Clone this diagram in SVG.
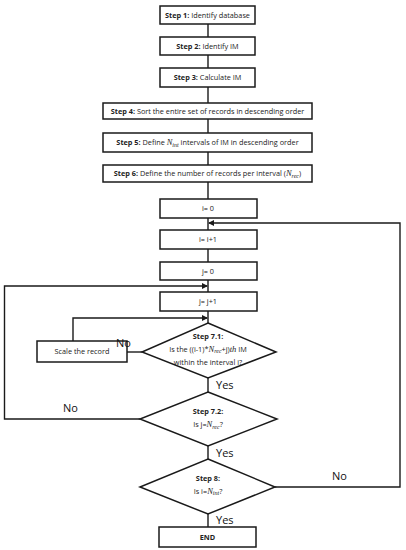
<svg xmlns="http://www.w3.org/2000/svg" width="406" height="550" viewBox="0 0 406 550">
<style>
.box{fill:#fff;stroke:#1a1a1a;stroke-width:1.5}
.ln{fill:none;stroke:#1a1a1a;stroke-width:1.4}
.t{font-family:"Open Sans","Liberation Sans",sans-serif;font-size:7.3px;fill:#222;text-anchor:middle}
.b{font-weight:bold}
.m{font-family:"Liberation Serif",serif;font-style:italic;font-size:8.5px}
.s{font-size:6px}
.lbl{font-family:"Open Sans","Liberation Sans",sans-serif;font-size:11px;fill:#111}
</style>
<defs>
<marker id="ah" markerWidth="6" markerHeight="6" refX="5" refY="3" orient="auto" markerUnits="userSpaceOnUse">
<path d="M0,0 L6,3 L0,6 Z" fill="#1a1a1a"/>
</marker>
</defs>
<g id="connectors">
<path class="ln" d="M208,24V37M208,55V68M208,87V103M208,119V133M208,152V165M208,182V199M208,218V230M208,249V262M208,280V292M208,311V323M208,378V392M208,446V459M208,514V527"/>
<path class="ln" d="M142,352H127"/>
<path class="ln" d="M73,341V318H207" marker-end="url(#ah)"/>
<path class="ln" d="M140,419H4.5V286H207" marker-end="url(#ah)"/>
<path class="ln" d="M275,487H400V223H209" marker-end="url(#ah)"/>
</g>
<g id="step1"><rect class="box" x="160" y="6" width="95" height="18"/><text class="t" x="207.5" y="17.5"><tspan class="b">Step 1:</tspan> Identify database</text></g>
<g id="step2"><rect class="box" x="160" y="37" width="95" height="18"/><text class="t" x="207.5" y="48.5"><tspan class="b">Step 2:</tspan> Identify IM</text></g>
<g id="step3"><rect class="box" x="160" y="68" width="95" height="19"/><text class="t" x="207.5" y="80"><tspan class="b">Step 3:</tspan> Calculate IM</text></g>
<g id="step4"><rect class="box" x="103" y="103" width="209" height="16"/><text class="t" x="207.5" y="113.5"><tspan class="b">Step 4:</tspan> Sort the entire set of records in descending order</text></g>
<g id="step5"><rect class="box" x="103" y="133" width="209" height="19"/><text class="t" x="207.5" y="145"><tspan class="b">Step 5:</tspan> Define <tspan class="m">N</tspan><tspan class="m s" dy="1.5">int</tspan><tspan dy="-1.5"> intervals of IM in descending order</tspan></text></g>
<g id="step6"><rect class="box" x="103" y="165" width="209" height="17"/><text class="t" x="207.5" y="176"><tspan class="b">Step 6:</tspan> Define the number of records per interval (<tspan class="m">N</tspan><tspan class="m s" dy="1.5">rec</tspan><tspan dy="-1.5">)</tspan></text></g>
<g id="i0"><rect class="box" x="160" y="199" width="97" height="19"/><text class="t" x="208" y="211">i= 0</text></g>
<g id="iinc"><rect class="box" x="160" y="230" width="97" height="19"/><text class="t" x="208" y="242">i= i+1</text></g>
<g id="j0"><rect class="box" x="160" y="262" width="97" height="18"/><text class="t" x="208" y="273.5">j= 0</text></g>
<g id="jinc"><rect class="box" x="160" y="292" width="97" height="19"/><text class="t" x="208" y="304">j= j+1</text></g>
<g id="scale"><rect class="box" x="37" y="341" width="90" height="21"/><text class="t" x="82" y="354">Scale the record</text></g>
<g id="step71"><path class="box" d="M208,323L276,352L208,378L142,352Z"/>
<text class="t" x="208" y="338.5"><tspan class="b">Step 7.1:</tspan></text>
<text class="t" x="208" y="351.5">Is the ((i-1)*<tspan class="m">N</tspan><tspan class="m s" dy="1.5">rec</tspan><tspan dy="-1.5">+j)</tspan><tspan class="m">th</tspan> IM</text>
<text class="t" x="208" y="365">within the interval i?</text></g>
<g id="step72"><path class="box" d="M208,392L277,419L208,446L140,419Z"/>
<text class="t" x="208" y="414"><tspan class="b">Step 7.2:</tspan></text>
<text class="t" x="208" y="427">Is j=<tspan class="m">N</tspan><tspan class="m s" dy="1.5">rec</tspan><tspan dy="-1.5">?</tspan></text></g>
<g id="step8"><path class="box" d="M208,459L275,487L208,514L140,487Z"/>
<text class="t" x="208" y="481"><tspan class="b">Step 8:</tspan></text>
<text class="t" x="208" y="493.5">Is i=<tspan class="m">N</tspan><tspan class="m s" dy="1.5">int</tspan><tspan dy="-1.5">?</tspan></text></g>
<g id="end"><rect class="box" x="159" y="527" width="97" height="20"/><text class="t b" x="207.5" y="539.5">END</text></g>
<g id="labels">
<text class="lbl" x="116" y="347">No</text>
<text class="lbl" x="216" y="389">Yes</text>
<text class="lbl" x="63" y="412">No</text>
<text class="lbl" x="216" y="457">Yes</text>
<text class="lbl" x="332" y="480">No</text>
<text class="lbl" x="216" y="524">Yes</text>
</g>
</svg>
